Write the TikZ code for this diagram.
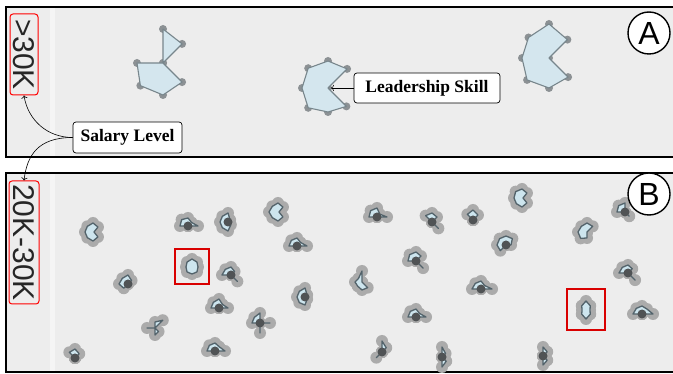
\documentclass[tikz,border=0pt]{standalone}
\usepackage{fontspec}
\setmainfont{Liberation Serif}
\newfontfamily\levelfont{Liberation Sans}
\usetikzlibrary{arrows.meta,
                positioning
            }

\definecolor{panelgray}{HTML}{EDEDED}
\definecolor{glyphblue}{HTML}{D4E6EE}
\definecolor{glyphline}{HTML}{78868C}
\definecolor{dotgray}{HTML}{8C9194}
\definecolor{halogray}{HTML}{ABABAB}
\definecolor{smallblue}{HTML}{CDE5EE}
\definecolor{smallline}{HTML}{53636B}
\definecolor{hubgray}{HTML}{505355}

\tikzset{
  panel/.style={draw=black, line width=1.3pt, fill=panelgray},
  stripe/.style={fill=white!96!black},
  salarytag/.style={draw=red, line width=1pt, rounded corners=3pt, rotate=-90, inner sep=0pt,
    font=\levelfont\fontsize{30}{30}\selectfont, text=black!85},
  notebox/.style={draw, fill=white, rounded corners=3pt, line width=0.7pt, inner sep=0pt,
    font=\bfseries\fontsize{17.5}{18}\selectfont},
  paneltag/.style={circle, draw, fill=white, line width=1.4pt, minimum size=42pt, inner sep=0pt,
    font=\levelfont\fontsize{32}{32}\selectfont},
  bighalo/.style={fill=dotgray, radius=4pt},
  bigglyph/.style={fill=glyphblue, draw=glyphline, line width=1.1pt, line join=round},
  smallhalo/.style={fill=halogray, radius=6pt},
  smallglyph/.style={fill=smallblue, draw=smallline, line width=1.3pt, line join=round},
  hub/.style={fill=hubgray, radius=4.5pt},
  pick/.style={draw=red!85!black, line width=1.4pt},
  link/.style={->, line width=0.6pt}
}

\newcommand{\radar}[4]{%
  \foreach \len [count=\k] in {#4}
    \coordinate (v\k) at ([shift={(#2,#3)}]{225+45*\k}:\len);
  \foreach \k in {1,...,8}
    \fill[#1halo] (v\k) circle;
  \filldraw[#1glyph] (v1) -- (v2) -- (v3) -- (v4) -- (v5) -- (v6) -- (v7) -- (v8) -- cycle;
}

\begin{document}
\begin{tikzpicture}[x=1pt, y=-1pt]
  \useasboundingbox (0,0) rectangle (673,374);
  \filldraw[panel] (6,7) rectangle (676,157);
  \filldraw[panel] (6,173) rectangle (676,372);
  \fill[stripe] (50,8) rectangle (55,156);
  \fill[stripe] (50,174) rectangle (55,371);

  \radar{big}{163}{63}{34,27,0,27,32,32,26,0}
  \radar{big}{328}{88}{27,27,0,26,24,28,26,28}
  \radar{big}{549}{58}{34,26,0,27,30,31,27,29}
  \coordinate (notch) at (328,88);

  \radar{small}{93}{232}{9,7,1,7,9,8,8,8}
  \radar{small}{188}{226}{8,5,10,0,0,0,8,9}
  \radar{small}{228}{222}{9,3,0,4,9,8,8,8}
  \radar{small}{278}{212}{9,7,1,7,9,8,9,8}
  \radar{small}{297}{246}{8,5,10,0,0,0,8,8}
  \radar{small}{128}{284}{9,5,0,0,0,6,9,8}
  \radar{small}{192}{267}{8,7,6,7,7,7,6,7}
  \radar{small}{231}{275}{8,5,0,9,0,0,9,8}
  \radar{small}{219}{308}{9,5,9,0,0,0,8,8}
  \radar{small}{155}{328}{6,11,0,5,7,0,8,0}
  \radar{small}{260}{323}{10,0,10,0,10,0,8,8}
  \radar{small}{305}{297}{9,3,0,3,8,8,8,8}
  \radar{small}{215}{351}{8,6,10,0,0,0,8,8}
  \radar{small}{75}{358}{9,6,0,0,0,0,0,8}
  \radar{small}{377}{217}{9,4,10,0,0,0,8,9}
  \radar{small}{432}{222}{9,7,0,9,0,0,0,9}
  \radar{small}{473}{220}{10,7,0,0,0,0,0,8}
  \radar{small}{522}{198}{9,7,1,7,9,8,8,9}
  \radar{small}{506}{245}{9,9,5,0,0,8,9,9}
  \radar{small}{416}{261}{9,7,0,10,0,0,8,9}
  \radar{small}{362}{282}{11,0,0,8,8,6,7,5}
  \radar{small}{416}{317}{8,5,10,0,0,0,8,8}
  \radar{small}{481}{289}{8,5,11,0,0,0,9,8}
  \radar{small}{382}{352}{11,6,0,0,0,8,0,0}
  \radar{small}{442}{357}{10,5,0,6,10,0,0,0}
  \radar{small}{543}{356}{9,6,0,6,9,0,0,0}
  \radar{small}{587}{232}{9,8,0,0,6,9,9,8}
  \radar{small}{625}{212}{9,0,0,6,0,0,8,9}
  \radar{small}{628}{273}{8,6,0,10,0,0,9,8}
  \radar{small}{586}{310}{9,6,4,6,9,6,4,6}
  \radar{small}{642}{314}{8,7,11,0,0,0,9,8}

  \foreach \x/\y in {188/226, 228/222, 297/246, 128/284, 231/275, 219/308, 260/323,
                     305/297, 215/351, 75/358, 377/217, 432/222, 473/220, 506/245,
                     416/261, 416/317, 481/289, 382/352, 442/357, 543/356, 625/212,
                     628/273, 642/314}
    \fill[hub] (\x,\y) circle;

  \draw[pick] (175,249) rectangle (209,284);
  \draw[pick] (567,289) rectangle (605,330);

  \node[paneltag] (tagA) at (649,33) {A};
  \node[paneltag] (tagB) at (649,194) {B};

  \node[salarytag, minimum width=81pt, minimum height=28pt] (over) at (24,54.5) {>30K};
  \node[salarytag, minimum width=123pt, minimum height=30pt] (mid) at (24,242.5) {20K-30K};
  \node[notebox, minimum width=109pt, minimum height=31pt] (salary) at (127.5,137.5) {Salary Level};
  \node[notebox, minimum width=146pt, minimum height=30pt] (skill) at (427,88) {Leadership Skill};

  \draw[link] (salary.west) .. controls +(-25,0) and +(4,25) .. (over.east);
  \draw[link] (salary.west) .. controls +(-35,0) and +(3,-25) .. (mid.west);
  \draw[link, shorten >=3pt] (skill.west) -- (notch);
\end{tikzpicture}
\end{document}
